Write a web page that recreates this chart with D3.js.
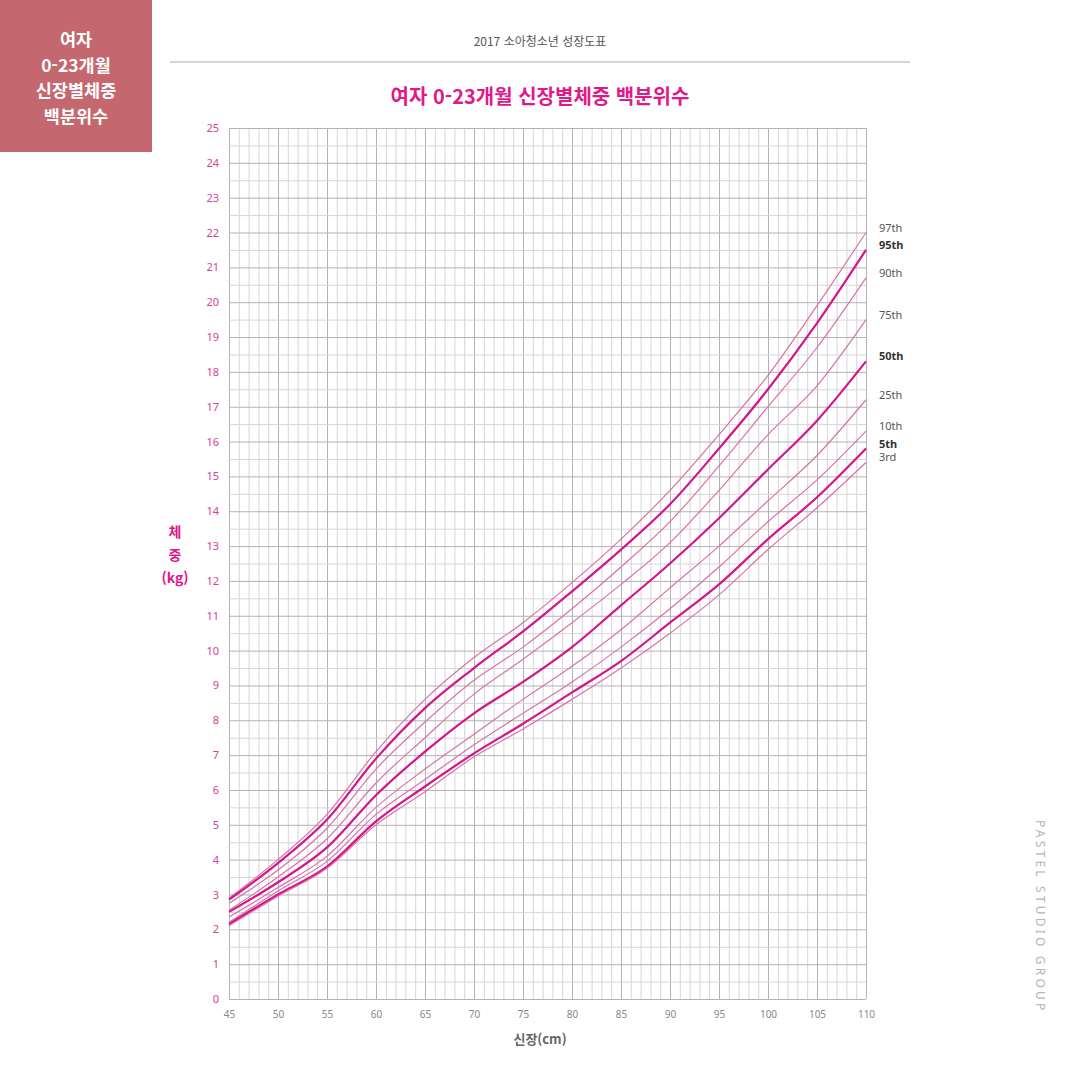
<!DOCTYPE html>
<html lang="ko">
<head>
<meta charset="UTF-8"/>
<title>여자 0-23개월 신장별체중 백분위수</title>
<script src="https://d3js.org/d3.v7.min.js"></script>
<style>
  body { margin: 0; background: #fff; }
  svg { display: block; font-family: "Noto Sans CJK KR", "Noto Sans", sans-serif; }
</style>
</head>
<body>
<svg id="chart" width="1080" height="1080"></svg>
<script>
// 신장(cm) 기준점
const heights = [45, 50, 55, 60, 65, 70, 75, 80, 85, 90, 95, 100, 105, 110];

// 백분위별 체중(kg)
const p97 = [2.9, 4.0, 5.3, 7.1, 8.6, 9.8, 10.8, 11.95, 13.2, 14.6, 16.2, 17.9, 19.9, 22.0];
const p95 = [2.85, 3.9, 5.15, 6.9, 8.35, 9.5, 10.55, 11.7, 12.9, 14.2, 15.8, 17.5, 19.4, 21.5];
const p90 = [2.75, 3.7, 4.9, 6.6, 7.95, 9.15, 10.1, 11.2, 12.4, 13.7, 15.3, 17.0, 18.7, 20.7];
const p75 = [2.55, 3.5, 4.6, 6.2, 7.5, 8.75, 9.75, 10.8, 11.9, 13.1, 14.6, 16.2, 17.6, 19.5];
const p50 = [2.5, 3.35, 4.35, 5.85, 7.1, 8.2, 9.1, 10.1, 11.3, 12.5, 13.8, 15.2, 16.6, 18.3];
const p25 = [2.35, 3.2, 4.1, 5.5, 6.6, 7.6, 8.6, 9.55, 10.6, 11.8, 13.0, 14.3, 15.6, 17.2];
const p10 = [2.2, 3.1, 3.95, 5.3, 6.3, 7.3, 8.2, 9.1, 10.1, 11.2, 12.4, 13.7, 14.9, 16.3];
const p5  = [2.15, 3.0, 3.8, 5.1, 6.1, 7.05, 7.9, 8.8, 9.7, 10.8, 11.9, 13.2, 14.4, 15.8];
const p3  = [2.1, 2.95, 3.75, 5.0, 5.95, 6.95, 7.75, 8.6, 9.5, 10.5, 11.6, 12.9, 14.1, 15.4];

const series = [
  { name: "97th", values: p97, bold: false },
  { name: "95th", values: p95, bold: true },
  { name: "90th", values: p90, bold: false },
  { name: "75th", values: p75, bold: false },
  { name: "50th", values: p50, bold: true },
  { name: "25th", values: p25, bold: false },
  { name: "10th", values: p10, bold: false },
  { name: "5th",  values: p5,  bold: true },
  { name: "3rd",  values: p3,  bold: false }
];

const xTicks = [45, 50, 55, 60, 65, 70, 75, 80, 85, 90, 95, 100, 105, 110];
const yTicks = d3.range(0, 26);
const sideTitle = ["여자", "0-23개월", "신장별체중", "백분위수"];

const svg = d3.select("#chart");

const plotLeft = 229, plotRight = 866, plotTop = 128, plotBottom = 999;

const x = d3.scaleLinear().domain([45, 110]).range([plotLeft, plotRight]);
const y = d3.scaleLinear().domain([0, 25]).range([plotBottom, plotTop]);

// 왼쪽 위 상자
svg.append("rect")
  .attr("x", 0).attr("y", 0)
  .attr("width", 152).attr("height", 152)
  .attr("fill", "#c4676e");

svg.append("g")
  .selectAll("text")
  .data(sideTitle)
  .join("text")
  .attr("x", 76)
  .attr("y", (d, i) => 46 + i * 25.5)
  .attr("text-anchor", "middle")
  .attr("fill", "#fff")
  .attr("font-size", 17.5)
  .attr("font-weight", "bold")
  .text(d => d);

// 머리글
svg.append("text")
  .attr("x", 540).attr("y", 46)
  .attr("text-anchor", "middle")
  .attr("fill", "#555")
  .attr("font-size", 12)
  .text("2017 소아청소년 성장도표");

svg.append("line")
  .attr("x1", 170).attr("x2", 910)
  .attr("y1", 62).attr("y2", 62)
  .attr("stroke", "#c8c8c8")
  .attr("stroke-width", 1.5);

svg.append("text")
  .attr("x", 540).attr("y", 104)
  .attr("text-anchor", "middle")
  .attr("fill", "#e0198b")
  .attr("font-size", 20)
  .attr("font-weight", "bold")
  .text("여자 0-23개월 신장별체중 백분위수");

// 격자
const grid = svg.append("g");

grid.append("g")
  .attr("transform", `translate(0, ${plotBottom})`)
  .call(d3.axisBottom(x).ticks(65).tickSize(-(plotBottom - plotTop)).tickFormat(""))
  .call(g => g.select(".domain").remove())
  .call(g => g.selectAll(".tick line")
    .attr("stroke", d => d % 5 === 0 ? "#b3b3b3" : "#d6d6d6")
    .attr("stroke-width", 1));

grid.append("g")
  .attr("transform", `translate(${plotLeft}, 0)`)
  .call(d3.axisLeft(y).ticks(50).tickSize(-(plotRight - plotLeft)).tickFormat(""))
  .call(g => g.select(".domain").remove())
  .call(g => g.selectAll(".tick line")
    .attr("stroke", d => Number.isInteger(d) ? "#b3b3b3" : "#d6d6d6")
    .attr("stroke-width", 1));

// 축 눈금 글자
const xAxis = svg.append("g")
  .attr("transform", `translate(0, ${plotBottom})`)
  .call(d3.axisBottom(x).tickValues(xTicks).tickSize(0).tickPadding(12));
xAxis.select(".domain").remove();
xAxis.selectAll("text")
  .attr("fill", "#888")
  .attr("font-size", 10)
  .attr("font-family", "'Noto Sans', sans-serif");

const yAxis = svg.append("g")
  .attr("transform", `translate(${plotLeft}, 0)`)
  .call(d3.axisLeft(y).tickValues(yTicks).tickSize(0).tickPadding(10));
yAxis.select(".domain").remove();
yAxis.selectAll("text")
  .attr("fill", "#d6409a")
  .attr("font-size", 11)
  .attr("font-family", "'Noto Sans', sans-serif");

// 축 제목
svg.append("text")
  .attr("x", 540).attr("y", 1044)
  .attr("text-anchor", "middle")
  .attr("fill", "#666")
  .attr("font-size", 13)
  .attr("font-weight", "bold")
  .text("신장(cm)");

svg.append("g")
  .selectAll("text")
  .data(["체", "중", "(kg)"])
  .join("text")
  .attr("x", 175)
  .attr("y", (d, i) => 537 + i * 23)
  .attr("text-anchor", "middle")
  .attr("fill", "#e0198b")
  .attr("font-size", 14)
  .attr("font-weight", "bold")
  .text(d => d);

// 백분위 곡선
const line = d3.line()
  .x((d, i) => x(heights[i]))
  .y(d => y(d))
  .curve(d3.curveMonotoneX);

svg.append("g")
  .selectAll("path")
  .data(series)
  .join("path")
  .attr("d", d => line(d.values))
  .attr("fill", "none")
  .attr("stroke", d => d.bold ? "#d3168a" : "#d872ac")
  .attr("stroke-width", d => d.bold ? 2.2 : 1.2);

// 백분위 이름
svg.append("g")
  .selectAll("text")
  .data(series)
  .join("text")
  .attr("x", 879)
  .attr("y", d => y(d.values[d.values.length - 1]) - 1)
  .attr("fill", d => d.bold ? "#333" : "#555")
  .attr("font-size", 11)
  .attr("font-weight", d => d.bold ? "bold" : "normal")
  .attr("font-family", "'Noto Sans', sans-serif")
  .text(d => d.name);

// 세로 로고
svg.append("text")
  .attr("transform", "translate(1036, 820) rotate(90)")
  .attr("fill", "#b5b5b5")
  .attr("font-size", 12)
  .attr("letter-spacing", 3.2)
  .attr("font-family", "'Noto Sans', sans-serif")
  .text("PASTEL STUDIO GROUP");
</script>
</body>
</html>
